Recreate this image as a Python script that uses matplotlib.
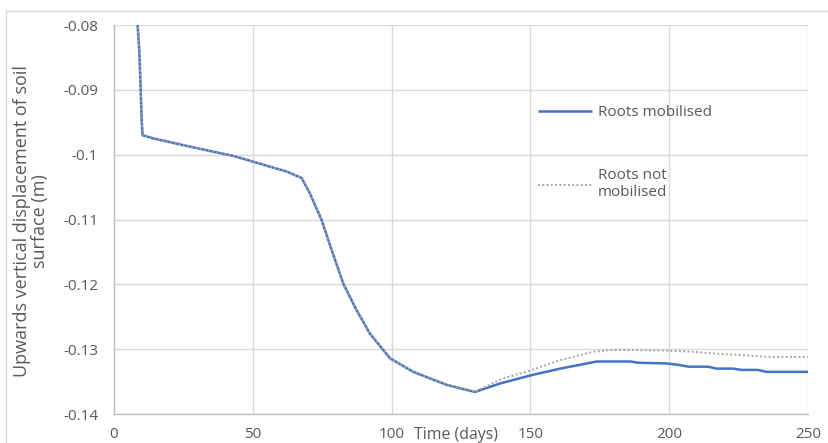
import matplotlib
matplotlib.use("Agg")
import matplotlib.pyplot as plt
from matplotlib.lines import Line2D

plt.rcParams['font.family'] = ['Open Sans', 'DejaVu Sans']

# Shared part (both series coincide until ~130 days)
days_common = [8.3, 8.5, 9.1, 9.6, 10.0, 10.3, 14.2, 31.0, 43.0, 50.2, 62.2, 67.6,
               70.6, 74.8, 78.4, 82.6, 87.4, 92.2, 99.4, 107.8, 119.8, 130.0]
disp_common = [-0.0790, -0.0800, -0.0839, -0.0897, -0.0950, -0.0970, -0.0975, -0.0991,
               -0.1002, -0.1011, -0.1026, -0.1036, -0.1060, -0.1101, -0.1147, -0.1199,
               -0.1240, -0.1276, -0.1314, -0.1335, -0.1355, -0.1366]

days_mob_tail = [139.0, 150.5, 160.7, 174.0, 186.0, 189.0, 199.0, 203.0, 207.0, 214.0,
                 217.0, 223.0, 226.0, 232.0, 235.0, 250.0]
disp_mob_tail = [-0.1353, -0.1340, -0.1330, -0.1319, -0.1319, -0.1321, -0.1322, -0.1324,
                 -0.1327, -0.1327, -0.1330, -0.1330, -0.1332, -0.1332, -0.1335, -0.1335]

days_not_tail = [139.0, 150.5, 160.7, 172.7, 179.8, 197.8, 208.6, 217.2, 225.5, 236.3, 250.0]
disp_not_tail = [-0.1347, -0.1332, -0.1317, -0.1304, -0.1301, -0.1302, -0.1304, -0.1307,
                 -0.1309, -0.1312, -0.1312]

days_mob = days_common + days_mob_tail
disp_mob = disp_common + disp_mob_tail
days_not = days_common + days_not_tail
disp_not = disp_common + disp_not_tail

x_ticks = [0, 50, 100, 150, 200, 250]
y_ticks = [-0.14, -0.13, -0.12, -0.11, -0.1, -0.09, -0.08]
y_tick_labels = ['-0.14', '-0.13', '-0.12', '-0.11', '-0.1', '-0.09', '-0.08']

label_mob = 'Roots mobilised'
label_not = 'Roots not\nmobilised'

blue = '#4472C4'
grey = '#A5A5A5'
text_col = '#595959'
grid_col = '#D9D9D9'
fs = 11

fig = plt.figure(figsize=(8.29, 4.43), dpi=100)
ax = fig.add_axes([114/829, 1 - 414/443, 694/829, 389/443])

# chart-area border (top and left visible)
fig.add_artist(Line2D([6/829, 1.0], [1 - 11/443, 1 - 11/443], transform=fig.transFigure,
                      color='#D9D9D9', lw=1))
fig.add_artist(Line2D([6/829, 6/829], [0, 1 - 11/443], transform=fig.transFigure,
                      color='#D9D9D9', lw=1))

ax.plot(days_mob, disp_mob, color=blue, lw=1.8, solid_capstyle='butt', zorder=3,
        label=label_mob)
ax.plot(days_not, disp_not, color=grey, lw=1.4, linestyle=(0, (1, 1.2)), zorder=4,
        label=label_not)

ax.set_xlim(0, 250)
ax.set_ylim(-0.14, -0.08)
ax.set_xticks(x_ticks)
ax.set_yticks(y_ticks)
ax.set_yticklabels(y_tick_labels)
ax.grid(True, color=grid_col, lw=1)
ax.set_axisbelow(True)
ax.tick_params(axis='both', length=0, colors=text_col, labelsize=fs)
ax.tick_params(axis='y', pad=11.5)
ax.tick_params(axis='x', pad=9.5)
for s in ['top', 'right']:
    ax.spines[s].set_visible(False)
for s in ['left', 'bottom']:
    ax.spines[s].set_color('#BFBFBF')
    ax.spines[s].set_linewidth(1)

ax.set_xlabel('Time (days)', fontsize=11.4, color=text_col)
ax.xaxis.set_label_coords(0.493, -0.033)

fig.text(31/829, 1 - 221/443, 'Upwards vertical displacement of soil\nsurface (m)',
         rotation=90, ha='center', va='center', fontsize=13, color=text_col,
         linespacing=1.0, multialignment='center')

leg = ax.legend(loc='upper left', bbox_to_anchor=(0.611, 0.794), frameon=False,
                fontsize=fs, handlelength=3.5, handletextpad=0.4, labelspacing=3.15,
                borderpad=0, borderaxespad=0)
for t in leg.get_texts():
    t.set_color(text_col)

fig.savefig('out.png', dpi=100)
